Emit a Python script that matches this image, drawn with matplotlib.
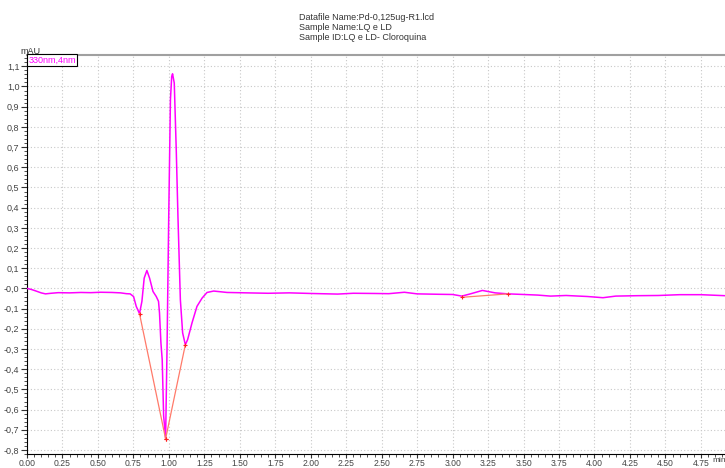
import matplotlib
matplotlib.use("Agg")
import matplotlib.pyplot as plt
import numpy as np
from matplotlib.ticker import MultipleLocator, FixedLocator

plt.rcParams['font.family'] = ['Liberation Sans', 'DejaVu Sans']

# Chromatogram trace (time in min, signal in mAU)
time_min = [0.00, 0.03, 0.06, 0.10, 0.13, 0.17, 0.22, 0.30, 0.38, 0.45, 0.52, 0.60,
            0.66, 0.70, 0.727, 0.751, 0.770, 0.793, 0.810, 0.826, 0.845, 0.864,
            0.888, 0.911, 0.927, 0.934, 0.944, 0.953, 0.963, 0.977, 0.987, 0.999,
            1.011, 1.020, 1.026, 1.038, 1.052, 1.064, 1.081, 1.097, 1.116, 1.132,
            1.163, 1.198, 1.234, 1.269, 1.316, 1.41, 1.55, 1.70, 1.85, 2.00, 2.19,
            2.30, 2.45, 2.55, 2.66, 2.75, 2.90, 3.00, 3.065, 3.12, 3.21, 3.30,
            3.39, 3.50, 3.60, 3.69, 3.80, 3.95, 4.06, 4.15, 4.30, 4.45, 4.60,
            4.75, 4.92]
signal_mau = [0.000, -0.005, -0.012, -0.022, -0.027, -0.024, -0.021, -0.022, -0.020,
              -0.021, -0.019, -0.020, -0.022, -0.026, -0.027, -0.040, -0.089, -0.125,
              -0.064, 0.051, 0.089, 0.051, -0.015, -0.040, -0.064, -0.122, -0.270,
              -0.353, -0.630, -0.741, -0.300, 0.356, 0.934, 1.050, 1.063, 1.017,
              0.687, 0.356, -0.056, -0.220, -0.279, -0.254, -0.171, -0.089, -0.048,
              -0.020, -0.013, -0.020, -0.022, -0.024, -0.022, -0.025, -0.028, -0.024,
              -0.025, -0.026, -0.019, -0.027, -0.029, -0.030, -0.038, -0.028, -0.010,
              -0.022, -0.027, -0.030, -0.033, -0.038, -0.035, -0.040, -0.046, -0.038,
              -0.036, -0.035, -0.031, -0.031, -0.036]

# Integration baselines (start/end points)
base1_t = [0.793, 0.977]
base1_v = [-0.125, -0.745]
base2_t = [0.977, 1.116]
base2_v = [-0.745, -0.279]
base3_t = [3.065, 3.39]
base3_v = [-0.044, -0.027]

y_ticks = [round(v, 1) for v in np.arange(-0.8, 1.15, 0.1)]
y_labels = [f"{v:.1f}".replace('.', ',') for v in y_ticks]
x_ticks = [0.00, 0.25, 0.50, 0.75, 1.00, 1.25, 1.50, 1.75, 2.00, 2.25, 2.50, 2.75,
           3.00, 3.25, 3.50, 3.75, 4.00, 4.25, 4.50, 4.75]
x_labels = [f"{v:.2f}" for v in x_ticks]

header = ["Datafile Name:Pd-0,125ug-R1.lcd",
          "Sample Name:LQ e LD",
          "Sample ID:LQ e LD- Cloroquina"]

fig = plt.figure(figsize=(7.25, 4.68), dpi=100)
ax = fig.add_axes([27/725, 1-454/468, 1-27/725, (454-55)/468])
ax.set_xlim(0, 4.92)
ax.set_ylim(-0.82, 1.156)

ax.plot(time_min, signal_mau, color='#ff00ff', lw=1.1, zorder=3)
for bt, bv in [(base1_t, base1_v), (base2_t, base2_v), (base3_t, base3_v)]:
    ax.plot(bt, bv, color='#ff7a6a', lw=0.9, zorder=4)
    ax.plot(bt, bv, ls='none', marker='+', ms=3, mew=0.8, color='#ff2020', zorder=5)

ax.xaxis.set_major_locator(FixedLocator(x_ticks))
ax.set_xticklabels(x_labels)
ax.xaxis.set_minor_locator(MultipleLocator(0.05))
ax.yaxis.set_major_locator(FixedLocator(y_ticks))
ax.set_yticklabels(y_labels)
ax.yaxis.set_minor_locator(MultipleLocator(0.02))

ax.grid(True, which='major', color='#c8c8c8', ls=(0, (1, 2)), lw=0.8)
ax.tick_params(which='major', length=4, width=0.8, labelsize=6.5, colors='#333333',
               labelcolor='#444444', pad=1.5)
ax.tick_params(axis='x', which='major', length=3, pad=0.5, labelsize=6.2)
ax.tick_params(which='minor', length=2, width=0.6, colors='#333333')

ax.spines['right'].set_visible(False)
ax.spines['top'].set_color('#a0a0a0')
ax.spines['top'].set_linewidth(1.5)
ax.spines['left'].set_linewidth(0.8)
ax.spines['bottom'].set_linewidth(0.8)

ax.text(0.002, 0.998, "330nm,4nm", transform=ax.transAxes, ha='left', va='top',
        fontsize=6.5, color='#ff00ff',
        bbox=dict(boxstyle='square,pad=0.15', fc='white', ec='black', lw=0.8), zorder=6)

fig.text(30/725, 1-51/468, "mAU", ha='center', va='center', fontsize=6.5, color='#333333')
fig.text(712/725, 1-461/468, "min", ha='left', va='center', fontsize=6.0, color='#444444')

for i, line in enumerate(header):
    fig.text(299/725, 1-(17+10.5*i)/468, line, ha='left', va='center',
             fontsize=6.5, color='#333333')

fig.savefig("out.png", dpi=100)
